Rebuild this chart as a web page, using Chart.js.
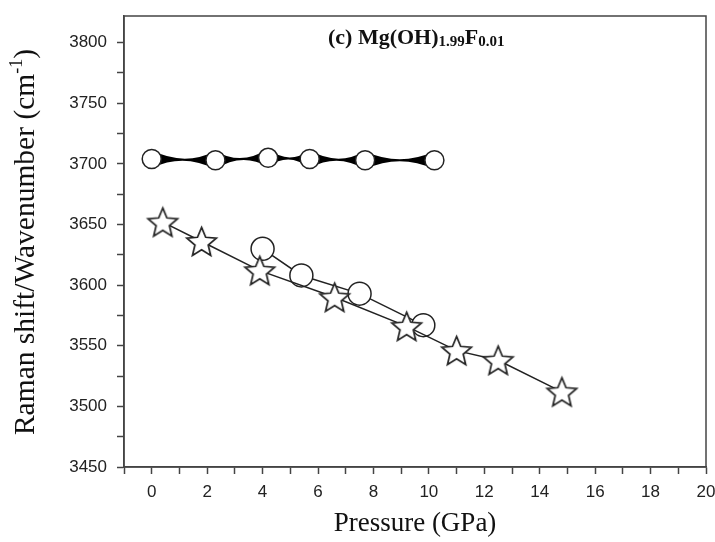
<!DOCTYPE html>
<html lang="en">
<head>
    <meta charset="UTF-8">
    <title>Mg(OH)1.99F0.01 Raman shift vs pressure</title>
    <script src="https://cdn.jsdelivr.net/npm/chart.js"></script>
    <style>
        html, body { margin: 0; padding: 0; background: #fff; }
        #wrap { width: 715px; height: 542px; }
    </style>
</head>
<body>
    <div id="wrap"><canvas id="chart"></canvas></div>

    <script>
        // upper band (small circles)
        const topPressure = [0, 2.3, 4.2, 5.7, 7.7, 10.2];
        const topShift = [3704, 3703, 3705, 3704, 3703, 3703];

        // lower band, circles
        const circPressure = [4.0, 5.4, 7.5, 9.8];
        const circShift = [3630, 3608, 3593, 3567];

        // lower band, stars
        const starPressure = [0.4, 1.8, 3.9, 6.6, 9.2, 11.0, 12.5, 14.8];
        const starShift = [3652, 3636, 3612, 3590, 3566, 3546, 3538, 3512];

        const xLabels = [0, 2, 4, 6, 8, 10, 12, 14, 16, 18, 20];
        const yLabels = [3450, 3500, 3550, 3600, 3650, 3700, 3750, 3800];

        const ink = '#222';

        function pts(xs, ys) {
            return xs.map((x, i) => ({ x: x, y: ys[i] }));
        }

        // outlined star marker
        function makeStar(R) {
            const c = document.createElement('canvas');
            const s = Math.ceil(R * 2 + 4);
            c.width = s; c.height = s;
            const g = c.getContext('2d');
            const r = R * 0.45;
            g.beginPath();
            for (let k = 0; k < 10; k++) {
                const a = -Math.PI / 2 + k * Math.PI / 5;
                const rr = k % 2 === 0 ? R : r;
                const px = s / 2 + rr * Math.cos(a);
                const py = s / 2 + R * 0.09 + rr * Math.sin(a);
                k === 0 ? g.moveTo(px, py) : g.lineTo(px, py);
            }
            g.closePath();
            g.fillStyle = '#fff';
            g.fill();
            g.lineJoin = 'miter';
            g.lineWidth = 1.7;
            g.strokeStyle = ink;
            g.stroke();
            return c;
        }
        const starImg = makeStar(15.5);

        // text runs with sub/superscripts: [text, size, dy]
        function drawRuns(ctx, runs, x, y, weight, family) {
            let cx = x;
            runs.forEach(r => {
                ctx.font = weight + ' ' + r[1] + 'px ' + family;
                ctx.fillText(r[0], cx, y + r[2]);
                cx += ctx.measureText(r[0]).width;
            });
            return cx - x;
        }
        function runsWidth(ctx, runs, weight, family) {
            let w = 0;
            runs.forEach(r => {
                ctx.font = weight + ' ' + r[1] + 'px ' + family;
                w += ctx.measureText(r[0]).width;
            });
            return w;
        }

        // tapered black joins between the upper circles
        const taperPlugin = {
            id: 'taper',
            beforeDatasetDraw(chart, args) {
                if (args.index !== 0) return;
                const ctx = chart.ctx;
                const el = args.meta.data;
                ctx.save();
                ctx.fillStyle = '#000';
                for (let i = 0; i < el.length - 1; i++) {
                    const a = el[i], b = el[i + 1];
                    const mx = (a.x + b.x) / 2, my = (a.y + b.y) / 2;
                    ctx.beginPath();
                    ctx.moveTo(a.x, a.y - 9);
                    ctx.quadraticCurveTo(mx, my + 7, b.x, b.y - 9);
                    ctx.lineTo(b.x, b.y + 9);
                    ctx.quadraticCurveTo(mx, my - 7, a.x, a.y + 9);
                    ctx.closePath();
                    ctx.fill();
                }
                ctx.restore();
            }
        };

        const labelsPlugin = {
            id: 'labels',
            afterDraw(chart) {
                const ctx = chart.ctx;
                const area = chart.chartArea;
                ctx.save();
                // frame
                ctx.strokeStyle = '#444';
                ctx.lineWidth = 1.5;
                ctx.strokeRect(area.left, area.top, area.right - area.left, area.bottom - area.top);

                ctx.fillStyle = '#111';
                ctx.textBaseline = 'alphabetic';
                ctx.textAlign = 'left';
                const serif = '"Liberation Serif", "Times New Roman", serif';

                // panel title
                drawRuns(ctx, [['(c) Mg(OH)', 22, 0], ['1.99', 15, 2], ['F', 22, 0], ['0.01', 15, 2]],
                    328, 44, 'bold', serif);

                // x title
                const xr = [['Pressure (GPa)', 27, 0]];
                const xw = runsWidth(ctx, xr, 'normal', serif);
                drawRuns(ctx, xr, 415 - xw / 2, 531, 'normal', serif);

                // y title
                const yr = [['Raman shift/Wavenumber (cm', 29.5, 0], ['-1', 18, -12], [')', 29.5, 0]];
                const yw = runsWidth(ctx, yr, 'normal', serif);
                ctx.translate(34, 242);
                ctx.rotate(-Math.PI / 2);
                drawRuns(ctx, yr, -yw / 2, 0, 'normal', serif);
                ctx.restore();
            }
        };

        new Chart(document.getElementById('chart'), {
            type: 'scatter',
            data: {
                datasets: [
                    {
                        data: pts(topPressure, topShift),
                        showLine: false,
                        pointStyle: 'circle',
                        pointRadius: 9.5,
                        pointBackgroundColor: '#fff',
                        pointBorderColor: ink,
                        pointBorderWidth: 1.5,
                        order: 2
                    },
                    {
                        data: pts(circPressure, circShift),
                        showLine: true,
                        borderColor: ink,
                        borderWidth: 1.5,
                        pointStyle: 'circle',
                        pointRadius: 11.5,
                        pointBackgroundColor: '#fff',
                        pointBorderColor: ink,
                        pointBorderWidth: 1.5,
                        order: 1
                    },
                    {
                        data: pts(starPressure, starShift),
                        showLine: true,
                        borderColor: ink,
                        borderWidth: 1.5,
                        pointStyle: starImg,
                        pointRadius: 15,
                        order: 0
                    }
                ]
            },
            options: {
                responsive: true,
                maintainAspectRatio: false,
                animation: false,
                events: [],
                layout: { autoPadding: false, padding: { top: 16, right: 0, left: 0, bottom: 0 } },
                plugins: {
                    legend: { display: false },
                    tooltip: { enabled: false }
                },
                scales: {
                    x: {
                        type: 'linear',
                        min: -1,
                        max: 20,
                        afterFit: s => { s.height = 75; s.paddingRight = 9; },
                        grid: { drawOnChartArea: false, tickLength: 7, tickColor: '#444', tickWidth: 1.5 },
                        border: { color: '#444', width: 1.5 },
                        ticks: {
                            stepSize: 1,
                            autoSkip: false,
                            maxRotation: 0,
                            padding: 8,
                            color: ink,
                            font: { family: '"Liberation Sans", Arial, sans-serif', size: 17 },
                            callback: v => xLabels.includes(v) ? v : ''
                        }
                    },
                    y: {
                        type: 'linear',
                        min: 3450,
                        max: 3822,
                        afterFit: s => { s.width = 124; s.paddingTop = 0; },
                        grid: { drawOnChartArea: false, tickLength: 7, tickColor: '#444', tickWidth: 1.5 },
                        border: { color: '#444', width: 1.5 },
                        ticks: {
                            stepSize: 25,
                            includeBounds: false,
                            autoSkip: false,
                            padding: 10,
                            color: ink,
                            font: { family: '"Liberation Sans", Arial, sans-serif', size: 17 },
                            callback: v => yLabels.includes(v) ? v : ''
                        }
                    }
                }
            },
            plugins: [taperPlugin, labelsPlugin]
        });
    </script>
</body>
</html>
